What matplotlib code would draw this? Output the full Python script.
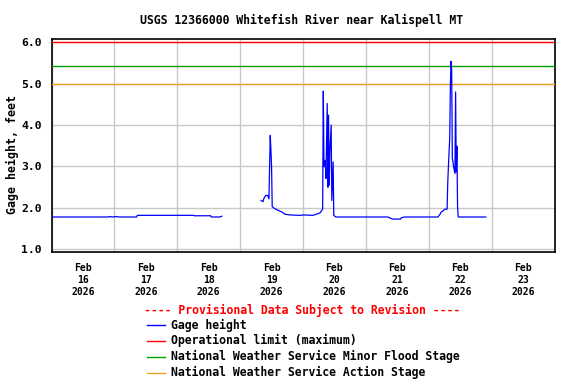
import numpy as np
import pandas as pd
import matplotlib
matplotlib.use("Agg")
import matplotlib.pyplot as plt
import matplotlib.dates as mdates
from matplotlib.lines import Line2D

plt.rcParams['font.family'] = ['DejaVu Sans Mono']
plt.rcParams['font.weight'] = 'bold'

title = "USGS 12366000 Whitefish River near Kalispell MT"
ylabel = "Gage height, feet"

# gage height readings (feet); None marks the gap in the record
times = [
    "2026-02-16 00:00", "2026-02-16 21:45", "2026-02-16 22:00", "2026-02-16 23:30",
    "2026-02-17 00:30", "2026-02-17 02:00", "2026-02-17 08:30", "2026-02-17 08:45",
    "2026-02-18 06:15", "2026-02-18 06:30", "2026-02-18 12:45", "2026-02-18 13:00",
    "2026-02-18 16:15", "2026-02-18 17:00",
    "2026-02-18 17:15",
    "2026-02-19 08:00", "2026-02-19 08:45", "2026-02-19 09:00", "2026-02-19 09:45",
    "2026-02-19 10:30", "2026-02-19 11:00", "2026-02-19 11:30", "2026-02-19 11:45",
    "2026-02-19 12:00", "2026-02-19 12:15", "2026-02-19 13:15", "2026-02-19 15:15",
    "2026-02-19 16:15", "2026-02-19 17:00", "2026-02-19 19:00", "2026-02-19 22:45",
    "2026-02-20 00:15", "2026-02-20 03:45", "2026-02-20 05:15", "2026-02-20 06:30",
    "2026-02-20 07:30", "2026-02-20 07:45", "2026-02-20 08:00", "2026-02-20 08:30",
    "2026-02-20 08:45", "2026-02-20 09:15", "2026-02-20 09:30", "2026-02-20 09:45",
    "2026-02-20 10:00", "2026-02-20 10:15", "2026-02-20 10:45", "2026-02-20 11:00",
    "2026-02-20 11:30", "2026-02-20 11:45", "2026-02-20 12:30",
    "2026-02-21 08:30", "2026-02-21 09:00", "2026-02-21 10:15", "2026-02-21 13:15",
    "2026-02-21 13:30", "2026-02-21 14:45",
    "2026-02-22 03:30", "2026-02-22 04:15", "2026-02-22 04:45", "2026-02-22 05:15",
    "2026-02-22 06:15", "2026-02-22 07:00", "2026-02-22 07:15", "2026-02-22 07:30",
    "2026-02-22 08:00", "2026-02-22 08:15", "2026-02-22 08:30", "2026-02-22 08:45",
    "2026-02-22 09:00", "2026-02-22 09:15", "2026-02-22 09:30", "2026-02-22 10:00",
    "2026-02-22 10:15", "2026-02-22 10:30", "2026-02-22 10:45", "2026-02-22 11:00",
    "2026-02-22 11:15", "2026-02-22 21:45",
]
gage = [
    1.78, 1.78, 1.79, 1.78,
    1.79, 1.78, 1.78, 1.82,
    1.82, 1.81, 1.81, 1.78,
    1.78, 1.80,
    None,
    2.18, 2.15, 2.22, 2.30,
    2.30, 2.22, 3.75, 3.40,
    3.00, 2.03, 1.98, 1.92,
    1.89, 1.85, 1.83, 1.82,
    1.83, 1.82, 1.85, 1.88,
    1.97, 4.82, 2.99, 3.15,
    2.71, 4.52, 2.50, 4.24,
    2.55, 3.35, 4.00, 2.18,
    3.11, 1.82, 1.78,
    1.78, 1.76, 1.73, 1.73,
    1.76, 1.78,
    1.78, 1.84, 1.90, 1.92,
    1.97, 1.97, 2.60, 2.99,
    3.67, 4.92, 5.54, 5.32,
    3.19, 3.11, 2.99, 2.83,
    4.80, 2.87, 3.49, 2.02,
    1.78, 1.78,
]

operational_limit = 6.0
minor_flood_stage = 5.42
action_stage = 5.0

legend_labels = ["Gage height", "Operational limit (maximum)",
                 "National Weather Service Minor Flood Stage",
                 "National Weather Service Action Stage"]
legend_colors = ["#0000ff", "#ff0000", "#00a000", "#f0a020"]

t = pd.to_datetime(times)
g = np.array([np.nan if v is None else v for v in gage], dtype=float)

W, H = 576, 384
fig = plt.figure(figsize=(W / 100, H / 100), dpi=100)
ax = fig.add_axes([51.5 / W, 1 - 251.7 / H, 503 / W, 212.4 / H])

ax.plot(t, g, color=legend_colors[0], lw=0.9, zorder=4)
ax.axhline(operational_limit, color=legend_colors[1], lw=1.0, zorder=3)
ax.axhline(minor_flood_stage, color=legend_colors[2], lw=1.0, zorder=3)
ax.axhline(action_stage, color=legend_colors[3], lw=1.0, zorder=3)

ax.set_xlim(pd.Timestamp("2026-02-16"), pd.Timestamp("2026-02-24"))
ax.set_ylim(0.942, 6.072)

# gridlines at midnight, date labels centred on noon
ax.xaxis.set_major_locator(mdates.DayLocator())
ax.xaxis.set_major_formatter(plt.NullFormatter())
ax.xaxis.set_minor_locator(mdates.HourLocator(byhour=[12]))
ax.xaxis.set_minor_formatter(mdates.DateFormatter("%b\n%d\n%Y"))
ax.set_yticks([1, 2, 3, 4, 5, 6])
ax.yaxis.set_major_formatter(plt.FormatStrFormatter("%.1f"))

ax.tick_params(axis="both", which="both", length=0)
ax.tick_params(axis="x", which="minor", labelsize=7, pad=8)
ax.tick_params(axis="y", labelsize=8.2, pad=7)
for lab in ax.get_xticklabels(minor=True):
    lab.set_linespacing(1.25)
    lab.set_fontweight("bold")

ax.grid(True, which="major", color="#c8c8c8", lw=1.0)
for sp in ax.spines.values():
    sp.set_linewidth(1.2)

fig.text(12 / W, 1 - 155 / H, ylabel, rotation=90, ha="center", va="center",
         fontsize=8.4, fontweight="bold")

fig.text(302 / W, 1 - 20.5 / H, title, ha="center", va="center",
         fontsize=8.3, fontweight="bold")

# legend block below the axes
fig.text(302 / W, 1 - 310.7 / H, "---- Provisional Data Subject to Revision ----",
         ha="center", va="center", color="#ff0000", fontsize=8.3, fontweight="bold")
rows = [325, 340.7, 356.7, 372.7]
for y, lab, col in zip(rows, legend_labels, legend_colors):
    fig.add_artist(Line2D([146.7 / W, 165 / W], [1 - y / H, 1 - y / H],
                          transform=fig.transFigure, color=col, lw=1.0))
    fig.text(170.7 / W, 1 - y / H, lab, ha="left", va="center",
             fontsize=8.3, fontweight="bold")

fig.savefig("out.png", dpi=100)
